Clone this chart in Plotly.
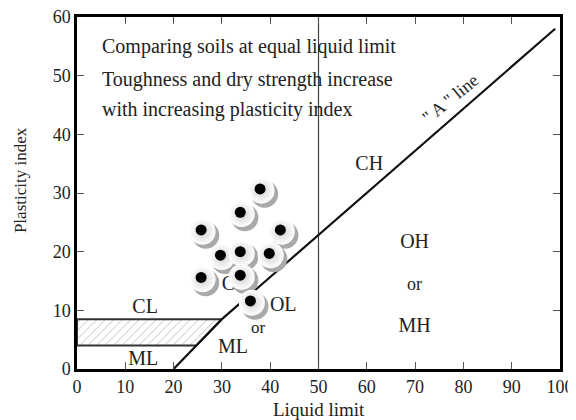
import plotly.graph_objects as go

# A-line
a_ll = [20, 30, 99]
a_pi = [0, 8.5, 58]

# vertical line at LL = 50
v_ll = [50, 50]
v_pi = [0, 60]

# CL-ML hatched band limits
band_low = 4.0
band_high = 8.5

# sample points
pts_ll = [38.2, 34.1, 26.0, 42.4, 30.0, 34.1, 40.1, 26.0, 34.1, 36.2]
pts_pi = [30.4, 26.4, 23.4, 23.4, 19.1, 19.7, 19.4, 15.3, 15.7, 11.3]

# region labels
lab_text = ["CH", "OH", "or", "MH", "CL", "ML", "ML", "OL", "or", "CL"]
lab_ll = [60.5, 69.9, 69.9, 69.9, 14.1, 13.7, 32.3, 42.7, 37.5, 32.6]
lab_pi = [34.8, 21.5, 14.2, 7.2, 10.4, 1.5, 3.6, 10.7, 6.8, 14.3]
lab_size = [20, 20, 18, 20, 20, 20, 20, 20, 17, 20]

note_lines = ["Comparing soils at equal liquid limit",
              "Toughness and dry strength increase",
              "with increasing plasticity index"]
note_pi = [55.0, 49.4, 44.2]
note_ll = 4.8

aline_label = '" A " line'
aline_label_ll = 77.2
aline_label_pi = 46.1

x_ticks = [0, 10, 20, 30, 40, 50, 60, 70, 80, 90, 100]
y_ticks = [0, 10, 20, 30, 40, 50, 60]

FONT = "Liberation Serif"
TXT = "#222222"


def a_line_x(pi):
    for i in range(len(a_pi) - 1):
        if a_pi[i] <= pi <= a_pi[i + 1]:
            t = (pi - a_pi[i]) / (a_pi[i + 1] - a_pi[i])
            return a_ll[i] + t * (a_ll[i + 1] - a_ll[i])
    return a_ll[-1]


fig = go.Figure()

# hatched band
xl = a_line_x(band_low)
xh = a_line_x(band_high)
fig.add_trace(go.Scatter(
    x=[0, xh, xl, 0, 0], y=[band_high, band_high, band_low, band_low, band_high],
    mode="lines", fill="toself", fillcolor="white",
    fillpattern=dict(shape="/", fgcolor="#777777", bgcolor="white", size=6, solidity=0.15),
    line=dict(color="#333333", width=2), hoverinfo="skip", showlegend=False))

# vertical line LL=50
fig.add_trace(go.Scatter(x=v_ll, y=v_pi, mode="lines",
                         line=dict(color="#444444", width=1.2), showlegend=False))

# A-line
fig.add_trace(go.Scatter(x=a_ll, y=a_pi, mode="lines",
                         line=dict(color="#111111", width=2.2), showlegend=False))

# labels (under the circles)
fig.add_trace(go.Scatter(x=lab_ll, y=lab_pi, mode="text", text=lab_text,
                         textfont=dict(family=FONT, size=lab_size, color=TXT),
                         showlegend=False))

# circles: shadow, body, dot
dx, dy = 0.65, -0.6
fig.add_trace(go.Scatter(x=[v + dx for v in pts_ll], y=[v + dy for v in pts_pi],
                         mode="markers",
                         marker=dict(size=27, color="#a9a9a9", line=dict(width=0)),
                         showlegend=False))
fig.add_trace(go.Scatter(x=pts_ll, y=pts_pi, mode="markers",
                         marker=dict(size=26, color="#ffffff",
                                     gradient=dict(type="radial", color="#d0d0d0"),
                                     line=dict(width=0)),
                         showlegend=False))
fig.add_trace(go.Scatter(x=[v - 0.3 for v in pts_ll], y=[v + 0.3 for v in pts_pi],
                         mode="markers",
                         marker=dict(size=11, color="#000000", line=dict(width=0)),
                         showlegend=False))

annotations = []
for t, p in zip(note_lines, note_pi):
    annotations.append(dict(x=note_ll, y=p, xref="x", yref="y", text=t, showarrow=False,
                            xanchor="left", yanchor="middle",
                            font=dict(family=FONT, size=20, color=TXT)))
annotations.append(dict(x=aline_label_ll, y=aline_label_pi, xref="x", yref="y",
                        text=aline_label, showarrow=False, textangle=-39,
                        font=dict(family=FONT, size=18, color=TXT)))
annotations.append(dict(x=0.5, y=0, xref="paper", yref="paper", text="Liquid limit",
                        showarrow=False, yshift=-40, yanchor="middle",
                        font=dict(family=FONT, size=19, color=TXT)))
annotations.append(dict(x=0, y=32.2, xref="paper", yref="y", text="Plasticity index",
                        showarrow=False, xshift=-57, textangle=-90, xanchor="center",
                        font=dict(family=FONT, size=17, color=TXT)))

axis_common = dict(showline=True, linecolor="black", linewidth=2.5, mirror="allticks",
                   ticks="inside", ticklen=7, tickwidth=1.2, tickcolor="#555555",
                   showgrid=False, zeroline=False, automargin=False,
                   ticklabeloverflow="allow",
                   tickfont=dict(family=FONT, size=18, color=TXT))

# the page body adds an 8px offset, so the figure is sized to fit the window
fig.update_layout(
    width=568, height=412,
    margin=dict(l=69, r=16, t=9, b=51),
    paper_bgcolor="white", plot_bgcolor="white",
    xaxis=dict(range=[0, 100], tickvals=x_ticks, **axis_common),
    yaxis=dict(range=[0, 60], tickvals=y_ticks, **axis_common),
    annotations=annotations,
    showlegend=False,
)

fig.write_html("out.html")
